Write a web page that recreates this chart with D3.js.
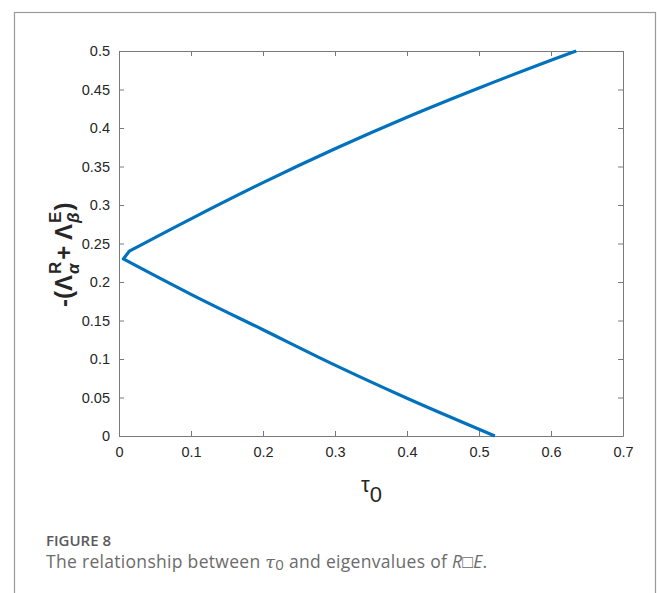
<!DOCTYPE html>
<html>
<head>
<meta charset="utf-8">
<script src="https://cdn.jsdelivr.net/npm/d3@7/dist/d3.min.js"></script>
<style>
  html, body { margin: 0; padding: 0; background: #fff; }
  svg { display: block; }
</style>
</head>
<body>
<svg id="chart" width="657" height="593"></svg>
<script>
// Eigenvalue curve: -(Λ^R_α + Λ^E_β) against τ0.
// Lower branch runs from its x-axis end up to the turning point near τ0 ≈ 0;
// a short straight step leads to the upper branch, which rises to the top.
const lowerTau = [0.522, 0.469, 0.400, 0.300, 0.200, 0.100, 0.006];
const lowerEig = [0.000, 0.021, 0.049, 0.092, 0.138, 0.184, 0.230];
const upperTau = [0.0143, 0.100, 0.200, 0.300, 0.400, 0.500, 0.600, 0.635];
const upperEig = [0.240, 0.282, 0.329, 0.373, 0.414, 0.452, 0.488, 0.500];
const xTicks = [0, 0.1, 0.2, 0.3, 0.4, 0.5, 0.6, 0.7];
const yTicks = [0, 0.05, 0.1, 0.15, 0.2, 0.25, 0.3, 0.35, 0.4, 0.45, 0.5];

const svg = d3.select("#chart");
const plot = { left: 119, right: 623, top: 51, bottom: 436 };

// Outer panel frame
svg.append("rect")
  .attr("x", 14.5).attr("y", 12.5)
  .attr("width", 641).attr("height", 620)
  .attr("fill", "none").attr("stroke", "#9a9a9a").attr("stroke-width", 1.2);

const x = d3.scaleLinear().domain([0, 0.7]).range([plot.left, plot.right]);
const y = d3.scaleLinear().domain([0, 0.5]).range([plot.bottom, plot.top]);

const axisColor = "#7a7a7a";
const labelColor = "#262626";
const tickFont = "Liberation Sans, Arial, Helvetica, sans-serif";

function styleAxis(g, showLabels) {
  g.select(".domain").attr("stroke", axisColor).attr("stroke-width", 1);
  g.selectAll(".tick line").attr("stroke", axisColor).attr("stroke-width", 1);
  g.selectAll(".tick text")
    .attr("fill", labelColor)
    .style("font-family", tickFont)
    .style("font-size", "14.5px")
    .style("display", showLabels ? null : "none");
}

const fmt = d => d === 0 ? "0" : String(d);

// Bottom and left axes carry labels; top and right mirror the ticks (box on)
svg.append("g")
  .attr("transform", `translate(0,${plot.bottom})`)
  .call(d3.axisBottom(x).tickValues(xTicks).tickFormat(fmt).tickSizeInner(-5).tickSizeOuter(0).tickPadding(11))
  .call(g => styleAxis(g, true));

svg.append("g")
  .attr("transform", `translate(0,${plot.top})`)
  .call(d3.axisTop(x).tickValues(xTicks).tickSizeInner(-5).tickSizeOuter(0))
  .call(g => styleAxis(g, false));

svg.append("g")
  .attr("transform", `translate(${plot.left},0)`)
  .call(d3.axisLeft(y).tickValues(yTicks).tickFormat(fmt).tickSizeInner(-5).tickSizeOuter(0).tickPadding(9))
  .call(g => styleAxis(g, true));

svg.append("g")
  .attr("transform", `translate(${plot.right},0)`)
  .call(d3.axisRight(y).tickValues(yTicks).tickSizeInner(-5).tickSizeOuter(0))
  .call(g => styleAxis(g, false));

// Curve: each branch smoothed on its own, joined by a straight step at the turn
const line = d3.line().x(d => x(d[0])).y(d => y(d[1])).curve(d3.curveCatmullRom.alpha(0.5));
const lowerPts = lowerTau.map((t, i) => [t, lowerEig[i]]);
const upperPts = upperTau.map((t, i) => [t, upperEig[i]]);
const upperD = line(upperPts).replace(/^M/, "L");
svg.append("path")
  .attr("fill", "none")
  .attr("stroke", "#0072BD")
  .attr("stroke-width", 3.2)
  .attr("stroke-linejoin", "round")
  .attr("stroke-linecap", "butt")
  .attr("d", line(lowerPts) + upperD);

// x-axis label: τ0
const xl = svg.append("text")
  .attr("x", 361).attr("y", 492)
  .attr("fill", labelColor)
  .style("font-family", tickFont)
  .style("font-size", "22px");
xl.append("tspan").text("τ");
xl.append("tspan").attr("dy", 10).text("0");

// y-axis label: -(Λ^R_α + Λ^E_β), rotated
const yl = svg.append("g").attr("transform", "translate(72,307) rotate(-90)");
const bigSize = 24, smallSize = 17;
let cursor = 0;
function piece(str, opts) {
  const t = yl.append("text")
    .attr("x", cursor + (opts.dx || 0))
    .attr("y", opts.dy || 0)
    .attr("fill", labelColor)
    .style("font-family", tickFont)
    .style("font-weight", "bold")
    .style("font-size", (opts.size || bigSize) + "px")
    .style("font-style", opts.italic ? "italic" : "normal")
    .text(str);
  return t.node().getComputedTextLength();
}
cursor += piece("-(Λ", {});
const wR = piece("R", { size: smallSize, dy: -11, dx: 1 });
const wA = piece("α", { size: smallSize, dy: 7, dx: 1, italic: true });
cursor += Math.max(wR, wA) + 3;
cursor += piece("+ Λ", {});
const wE = piece("E", { size: smallSize, dy: -11, dx: 1 });
const wB = piece("β", { size: smallSize, dy: 7, dx: 1, italic: true });
cursor += Math.max(wE, wB) + 2;
piece(")", {});

// Caption
svg.append("text")
  .attr("x", 46).attr("y", 546)
  .attr("fill", "#5a5a5a")
  .style("font-family", "Open Sans, sans-serif")
  .style("font-weight", 600)
  .style("font-size", "15px")
  .text("FIGURE 8");

const cap = svg.append("text")
  .attr("x", 46).attr("y", 568)
  .attr("fill", "#6b6b6b")
  .style("font-family", "Open Sans, sans-serif")
  .style("font-size", "17.5px")
  .style("letter-spacing", "0.3px");
cap.append("tspan").text("The relationship between ");
cap.append("tspan").style("font-family", "DejaVu Serif, serif").style("font-style", "italic").text("τ");
cap.append("tspan").attr("dy", 2).style("font-size", "15px").text("0");
cap.append("tspan").attr("dy", -2).text(" and eigenvalues of ");
cap.append("tspan").style("font-style", "italic").text("R□E");
cap.append("tspan").text(".");
</script>
</body>
</html>
